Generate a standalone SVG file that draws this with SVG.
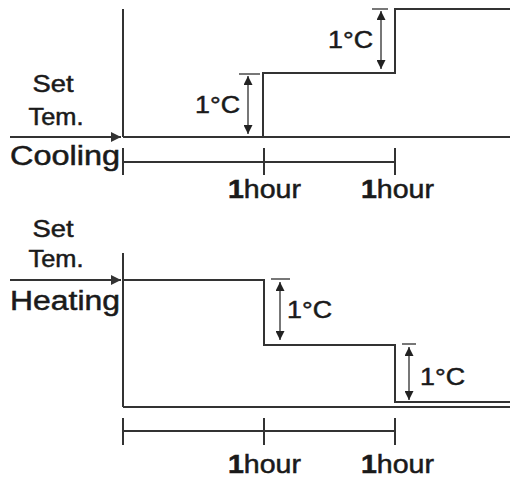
<svg xmlns="http://www.w3.org/2000/svg" width="515" height="481" viewBox="0 0 515 481">
<defs>
<style>
.ax{stroke:#333;stroke-width:2;fill:none}
.dim{stroke:#555;stroke-width:1.6;fill:none}
.t{font-family:"Liberation Sans",Arial,sans-serif;fill:#1a1a1a;stroke:#1a1a1a;stroke-width:0.5}
.lbl{font-size:23px}
.deg{font-size:24px}
.big{font-size:27px}
.hr{font-size:25px}
.b{font-weight:bold}
</style>
<marker id="ah" viewBox="0 0 10 10" refX="10" refY="5" markerWidth="10" markerHeight="10" markerUnits="userSpaceOnUse" orient="auto">
<path d="M0,0 L10,5 L0,10 z" fill="#333"/>
</marker>
<marker id="dh" viewBox="0 0 10 10" refX="10" refY="5" markerWidth="9" markerHeight="9" markerUnits="userSpaceOnUse" orient="auto-start-reverse">
<path d="M0,0 L10,5 L0,10 z" fill="#222"/>
</marker>
</defs>
<rect width="515" height="481" fill="#fff"/>

<g id="cooling-chart">
<line class="ax" x1="123" y1="9" x2="123" y2="137"/>
<line class="ax" x1="123" y1="137" x2="510" y2="137"/>
<polyline class="ax" points="263,137 263,73 395,73 395,9 510,9"/>
<text class="t lbl" x="53" y="92" text-anchor="middle" textLength="41" lengthAdjust="spacingAndGlyphs">Set</text>
<text class="t lbl" x="56" y="125" text-anchor="middle" textLength="55" lengthAdjust="spacingAndGlyphs">Tem.</text>
<text class="t big" x="10" y="165" textLength="110" lengthAdjust="spacingAndGlyphs">Cooling</text>
</g>

<g id="cooling-dim1">
<line class="dim" x1="239" y1="74" x2="260" y2="74"/>
<line class="dim" x1="248" y1="76" x2="248" y2="134" marker-start="url(#dh)" marker-end="url(#dh)"/>
<text class="t deg" x="195" y="113" textLength="45" lengthAdjust="spacingAndGlyphs">1°C</text>
</g>
<g id="cooling-dim2">
<line class="dim" x1="372" y1="9" x2="388" y2="9"/>
<line class="dim" x1="381" y1="11" x2="381" y2="69" marker-start="url(#dh)" marker-end="url(#dh)"/>
<text class="t deg" x="328" y="48" textLength="45" lengthAdjust="spacingAndGlyphs">1°C</text>
</g>

<g id="cooling-time">
<line class="ax" x1="123" y1="162" x2="395" y2="162"/>
<line class="ax" x1="123" y1="148" x2="123" y2="175"/>
<line class="ax" x1="264" y1="148" x2="264" y2="175"/>
<line class="ax" x1="395" y1="148" x2="395" y2="175"/>
<text class="t hr" x="228" y="198" textLength="73" lengthAdjust="spacingAndGlyphs"><tspan class="b">1</tspan>hour</text>
<text class="t hr" x="361" y="198" textLength="73" lengthAdjust="spacingAndGlyphs"><tspan class="b">1</tspan>hour</text>
</g>

<g id="heating-chart">
<line class="ax" x1="123" y1="253" x2="123" y2="407"/>
<line class="ax" x1="123" y1="407" x2="510" y2="407"/>
<polyline class="ax" points="123,280 264,280 264,345 395,345 395,402 510,402"/>
<text class="t lbl" x="53" y="237" text-anchor="middle" textLength="41" lengthAdjust="spacingAndGlyphs">Set</text>
<text class="t lbl" x="56" y="267" text-anchor="middle" textLength="55" lengthAdjust="spacingAndGlyphs">Tem.</text>
<text class="t big" x="10" y="310" textLength="110" lengthAdjust="spacingAndGlyphs">Heating</text>
</g>

<g id="heating-dim1">
<line class="dim" x1="271" y1="279" x2="290" y2="279"/>
<line class="dim" x1="280" y1="282" x2="280" y2="340" marker-start="url(#dh)" marker-end="url(#dh)"/>
<text class="t deg" x="287" y="318" textLength="45" lengthAdjust="spacingAndGlyphs">1°C</text>
</g>
<g id="heating-dim2">
<line class="dim" x1="402" y1="344" x2="416" y2="344"/>
<line class="dim" x1="409" y1="347" x2="409" y2="400" marker-start="url(#dh)" marker-end="url(#dh)"/>
<text class="t deg" x="420" y="385" textLength="45" lengthAdjust="spacingAndGlyphs">1°C</text>
</g>

<g id="heating-time">
<line class="ax" x1="123" y1="431" x2="395" y2="431"/>
<line class="ax" x1="123" y1="418" x2="123" y2="445"/>
<line class="ax" x1="264" y1="418" x2="264" y2="445"/>
<line class="ax" x1="395" y1="418" x2="395" y2="445"/>
<text class="t hr" x="228" y="473" textLength="73" lengthAdjust="spacingAndGlyphs"><tspan class="b">1</tspan>hour</text>
<text class="t hr" x="361" y="473" textLength="73" lengthAdjust="spacingAndGlyphs"><tspan class="b">1</tspan>hour</text>
</g>

<g id="connectors">
<line class="ax" x1="10" y1="137" x2="121" y2="137" marker-end="url(#ah)"/>
<line class="ax" x1="10" y1="280" x2="121" y2="280" marker-end="url(#ah)"/>
</g>
</svg>
